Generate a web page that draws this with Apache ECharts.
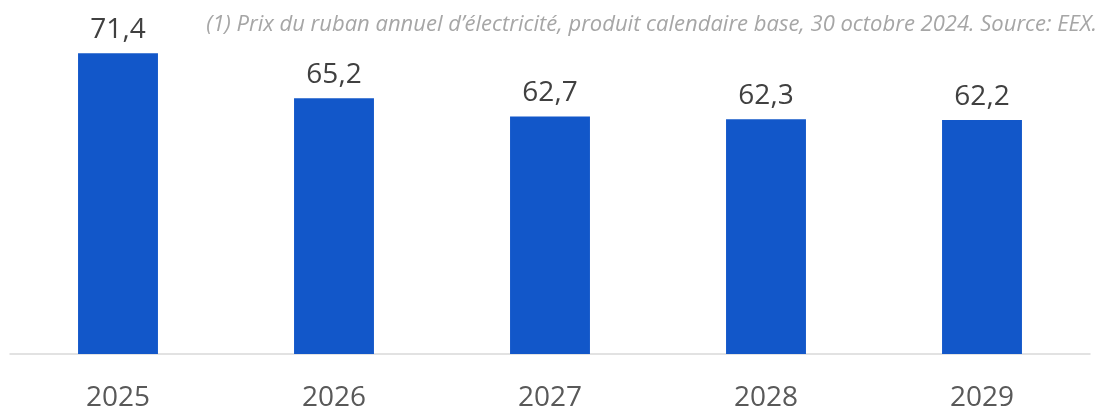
<!DOCTYPE html>
<html>
<head>
<meta charset="utf-8">
<script src="https://cdn.jsdelivr.net/npm/echarts@6/dist/echarts.min.js"></script>
<style>
html,body{margin:0;padding:0;background:#fff;}
#chart{width:1099px;height:409px;}
</style>
</head>
<body>
<div id="chart"></div>
<script>
var categories = ['2025', '2026', '2027', '2028', '2029'];
var values = [71.4, 65.2, 62.7, 62.3, 62.2];
var footnote = '(1) Prix du ruban annuel d\u2019\u00e9lectricit\u00e9, produit calendaire base, 30 octobre 2024. Source: EEX.';

var chart = echarts.init(document.getElementById('chart'));
chart.setOption({
  animation: false,
  grid: { left: 10, right: 9, top: 27, bottom: 55, containLabel: false, outerBoundsMode: 'none' },
  xAxis: {
    type: 'category',
    data: categories,
    axisLine: { show: true, lineStyle: { color: '#d9d9d9', width: 1.5 } },
    axisTick: { show: false },
    axisLabel: { color: '#595959', fontSize: 28, fontFamily: 'Open Sans', margin: 30 }
  },
  yAxis: {
    type: 'value',
    min: 30,
    max: 75,
    show: false,
    splitLine: { show: false }
  },
  series: [{
    type: 'bar',
    data: values,
    barWidth: '37%',
    itemStyle: { color: '#1257c9' },
    label: {
      show: true,
      position: 'top',
      distance: 9,
      color: '#404040',
      fontSize: 28,
      fontFamily: 'Open Sans',
      formatter: function (p) { return p.value.toFixed(1).replace('.', ','); }
    }
  }],
  graphic: [{
    type: 'text',
    right: 2,
    top: 14,
    style: {
      text: footnote,
      fill: '#a6a6a6',
      font: 'italic 22px "Open Sans"'
    }
  }]
});
</script>
</body>
</html>
